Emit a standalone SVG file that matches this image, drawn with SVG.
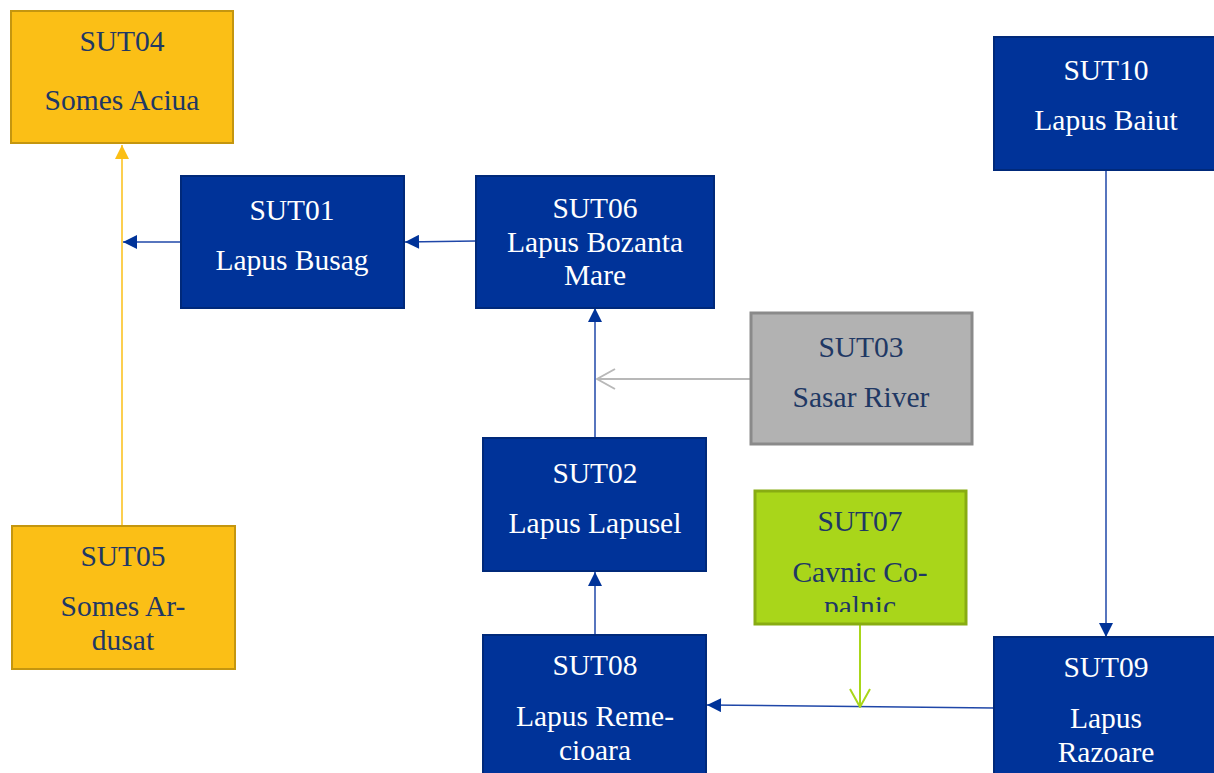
<svg xmlns="http://www.w3.org/2000/svg" width="1214" height="773" viewBox="0 0 1214 773">
  <style>
    .box { stroke-width: 2; }
    .blue { fill: #003399; stroke: #00297a; }
    .amber { fill: #FBBF16; stroke: #C4960F; }
    .grey { fill: #B2B2B2; stroke: #8A8A8A; stroke-width: 3; }
    .lime { fill: #A9D61A; stroke: #88AC12; stroke-width: 3; }
    text { font-family: "Liberation Serif", "DejaVu Serif", serif; font-size: 29.5px; text-anchor: middle; }
    .light { fill: #ffffff; }
    .dark { fill: #1F3864; }
    .c-blue { stroke: #1f47a8; stroke-width: 1.5; fill: none; }
    .c-amber { stroke: #FBBF16; stroke-width: 1.5; fill: none; }
    .c-grey { stroke: #B8B8B8; stroke-width: 2; fill: none; }
    .c-lime { stroke: #A9D61A; stroke-width: 2; fill: none; }
  </style>
  <defs>
    <marker id="tri-blue" viewBox="0 0 10 10" refX="10" refY="5" markerUnits="userSpaceOnUse" markerWidth="15" markerHeight="14" orient="auto">
      <path d="M0,0 L10,5 L0,10 Z" fill="#003399"/>
    </marker>
    <marker id="tri-amber" viewBox="0 0 10 10" refX="10" refY="5" markerUnits="userSpaceOnUse" markerWidth="15" markerHeight="14" orient="auto">
      <path d="M0,0 L10,5 L0,10 Z" fill="#FBBF16"/>
    </marker>
    <marker id="open-grey" viewBox="0 0 20 24" refX="19" refY="12" markerUnits="userSpaceOnUse" markerWidth="20" markerHeight="24" orient="auto">
      <path d="M1,2 L19,12 L1,22" fill="none" stroke="#B8B8B8" stroke-width="2"/>
    </marker>
    <marker id="open-lime" viewBox="0 0 20 24" refX="19" refY="12" markerUnits="userSpaceOnUse" markerWidth="20" markerHeight="24" orient="auto">
      <path d="M1,2 L19,12 L1,22" fill="none" stroke="#A9D61A" stroke-width="2"/>
    </marker>
    <clipPath id="clip07">
      <rect x="755" y="491" width="211" height="121"/>
    </clipPath>
  </defs>

  <!-- connectors -->
  <g id="connectors">
    <line class="c-amber" x1="122" y1="526" x2="122" y2="145" marker-end="url(#tri-amber)"/>
    <line class="c-blue" x1="181" y1="242" x2="123" y2="242" marker-end="url(#tri-blue)"/>
    <line class="c-blue" x1="476" y1="241" x2="405" y2="242" marker-end="url(#tri-blue)"/>
    <line class="c-blue" x1="595" y1="438" x2="595" y2="308" marker-end="url(#tri-blue)"/>
    <line class="c-grey" x1="750" y1="379" x2="597" y2="379" marker-end="url(#open-grey)"/>
    <line class="c-blue" x1="595" y1="635" x2="595" y2="572" marker-end="url(#tri-blue)"/>
    <line class="c-blue" x1="994" y1="708" x2="707" y2="705" marker-end="url(#tri-blue)"/>
    <line class="c-lime" x1="860" y1="624" x2="860" y2="707" marker-end="url(#open-lime)"/>
    <line class="c-blue" x1="1106" y1="170" x2="1106" y2="637" marker-end="url(#tri-blue)"/>
  </g>

  <g id="SUT04">
    <rect class="box amber" x="11" y="11" width="222" height="132"/>
    <text class="dark" x="122" y="51">SUT04</text>
    <text class="dark" x="122" y="110">Somes Aciua</text>
  </g>

  <g id="SUT01">
    <rect class="box blue" x="181" y="176" width="223" height="132"/>
    <text class="light" x="292" y="220">SUT01</text>
    <text class="light" x="292" y="270">Lapus Busag</text>
  </g>

  <g id="SUT06">
    <rect class="box blue" x="476" y="176" width="238" height="132"/>
    <text class="light" x="595" y="218">SUT06</text>
    <text class="light" x="595" y="252">Lapus Bozanta</text>
    <text class="light" x="595" y="285">Mare</text>
  </g>

  <g id="SUT03">
    <rect class="box grey" x="751" y="313" width="221" height="131"/>
    <text class="dark" x="861" y="357">SUT03</text>
    <text class="dark" x="861" y="407">Sasar River</text>
  </g>

  <g id="SUT02">
    <rect class="box blue" x="483" y="438" width="223" height="133"/>
    <text class="light" x="595" y="483">SUT02</text>
    <text class="light" x="595" y="533">Lapus Lapusel</text>
  </g>

  <g id="SUT07">
    <rect class="box lime" x="755" y="491" width="211" height="133"/>
    <g clip-path="url(#clip07)">
      <text class="dark" x="860" y="531">SUT07</text>
      <text class="dark" x="860" y="582">Cavnic Co-</text>
      <text class="dark" x="860" y="616">palnic</text>
    </g>
  </g>

  <g id="SUT05">
    <rect class="box amber" x="12" y="526" width="223" height="143"/>
    <text class="dark" x="123" y="566">SUT05</text>
    <text class="dark" x="123" y="616">Somes Ar-</text>
    <text class="dark" x="123" y="650">dusat</text>
  </g>

  <g id="SUT08">
    <rect class="box blue" x="483" y="635" width="223" height="145"/>
    <text class="light" x="595" y="675">SUT08</text>
    <text class="light" x="595" y="726">Lapus Reme-</text>
    <text class="light" x="595" y="760">cioara</text>
  </g>

  <g id="SUT09">
    <rect class="box blue" x="994" y="637" width="230" height="145"/>
    <text class="light" x="1106" y="677">SUT09</text>
    <text class="light" x="1106" y="728">Lapus</text>
    <text class="light" x="1106" y="762">Razoare</text>
  </g>

  <g id="SUT10">
    <rect class="box blue" x="994" y="37" width="230" height="133"/>
    <text class="light" x="1106" y="80">SUT10</text>
    <text class="light" x="1106" y="130">Lapus Baiut</text>
  </g>
</svg>
